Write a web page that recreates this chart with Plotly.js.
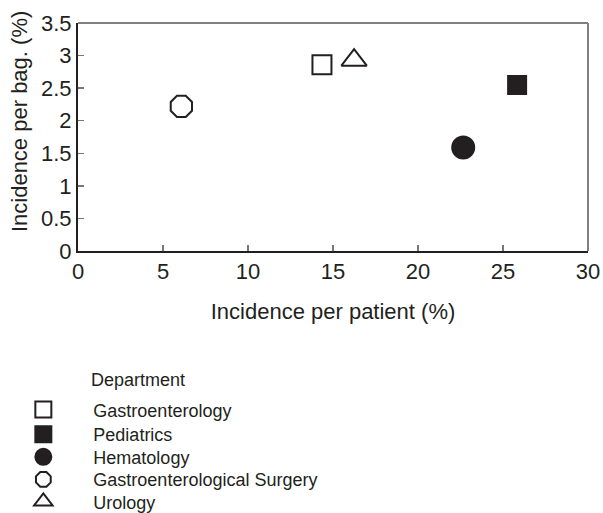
<!DOCTYPE html>
<html>
<head>
<meta charset="utf-8">
<script src="https://cdn.plot.ly/plotly-3.0.1.min.js"></script>
<style>html,body{margin:0;padding:0;background:#fff;}#chart{width:603px;height:513px;}</style>
</head>
<body>
<div id="chart"></div>
<script>
var departments = ["Gastroenterology", "Pediatrics", "Hematology", "Gastroenterological Surgery", "Urology"];
var perPatient = [14.35, 25.83, 22.66, 6.08, 16.24];
var perBag = [2.86, 2.55, 1.59, 2.22, 2.93];
var xTicks = [0, 5, 10, 15, 20, 25, 30];
var yTicks = [0, 0.5, 1, 1.5, 2, 2.5, 3, 3.5];

var ink = "#231f20";
var symbols = ["square", "square", "circle", "octagon", "triangle-up"];
var fills = ["#ffffff", ink, ink, "#ffffff", "#ffffff"];
var sizes = [19, 18, 22, 23, 22];
var legendIds = ["legend", "legend2", "legend3", "legend4", "legend5"];

var traces = departments.map(function (d, i) {
  return {
    type: "scatter",
    mode: "markers",
    name: d,
    legend: legendIds[i],
    x: [perPatient[i]],
    y: [perBag[i]],
    marker: {
      symbol: symbols[i],
      size: sizes[i],
      color: fills[i],
      line: { color: ink, width: 2 }
    },
    hoverinfo: "x+y+name"
  };
});

var font = "'Liberation Sans', Arial, Helvetica, sans-serif";
var layout = {
  width: 603, height: 513,
  paper_bgcolor: "#fff", plot_bgcolor: "#fff",
  margin: { l: 78, r: 14.5, t: 23, b: 262, autoexpand: false },
  font: { family: font, color: ink, size: 22 },
  showlegend: true,
  xaxis: {
    range: [0, 30], tickvals: xTicks, ticktext: xTicks.map(String),
    showgrid: false, zeroline: false, showline: true, linecolor: ink, linewidth: 2,
    ticks: "inside", ticklen: 6, tickcolor: "#777", tickwidth: 1.5,
    tickfont: { size: 22, color: ink }, automargin: false,
    title: { text: "Incidence per patient (%)", font: { size: 22, color: ink }, standoff: 20 }
  },
  yaxis: {
    range: [0, 3.5], tickvals: yTicks, ticktext: yTicks.map(String),
    showgrid: false, zeroline: false, showline: true, linecolor: ink, linewidth: 2,
    ticks: "inside", ticklen: 6, tickcolor: "#777", tickwidth: 1.5,
    tickfont: { size: 22, color: ink }, automargin: false
  },
  shapes: [
    { type: "line", xref: "paper", yref: "paper", x0: 0, x1: 1, y0: 1, y1: 1, line: { color: "#808080", width: 2 } },
    { type: "line", xref: "paper", yref: "paper", x0: 1, x1: 1, y0: 0, y1: 1, line: { color: "#808080", width: 2 } }
  ],
  annotations: [
    { text: "Incidence per bag. (%)", xref: "paper", yref: "paper", x: -0.1135, y: 0.566,
      xanchor: "center", yanchor: "middle", textangle: -90,
      showarrow: false, font: { size: 22, color: ink } },
    { text: "Department", xref: "paper", yref: "paper", x: 0.022, y: -0.565, xanchor: "left", yanchor: "middle",
      showarrow: false, font: { size: 18, color: ink } }
  ]
};

var legendY = [-0.697, -0.805, -0.904, -1.003, -1.100];
legendIds.forEach(function (id, i) {
  layout[id] = {
    x: -0.166, y: legendY[i], xanchor: "left", yanchor: "middle",
    font: { size: 18, color: ink }, bgcolor: "rgba(0,0,0,0)",
    itemwidth: 90, tracegroupgap: 0
  };
});

Plotly.newPlot("chart", traces, layout, { staticPlot: true, displayModeBar: false });
</script>
</body>
</html>
